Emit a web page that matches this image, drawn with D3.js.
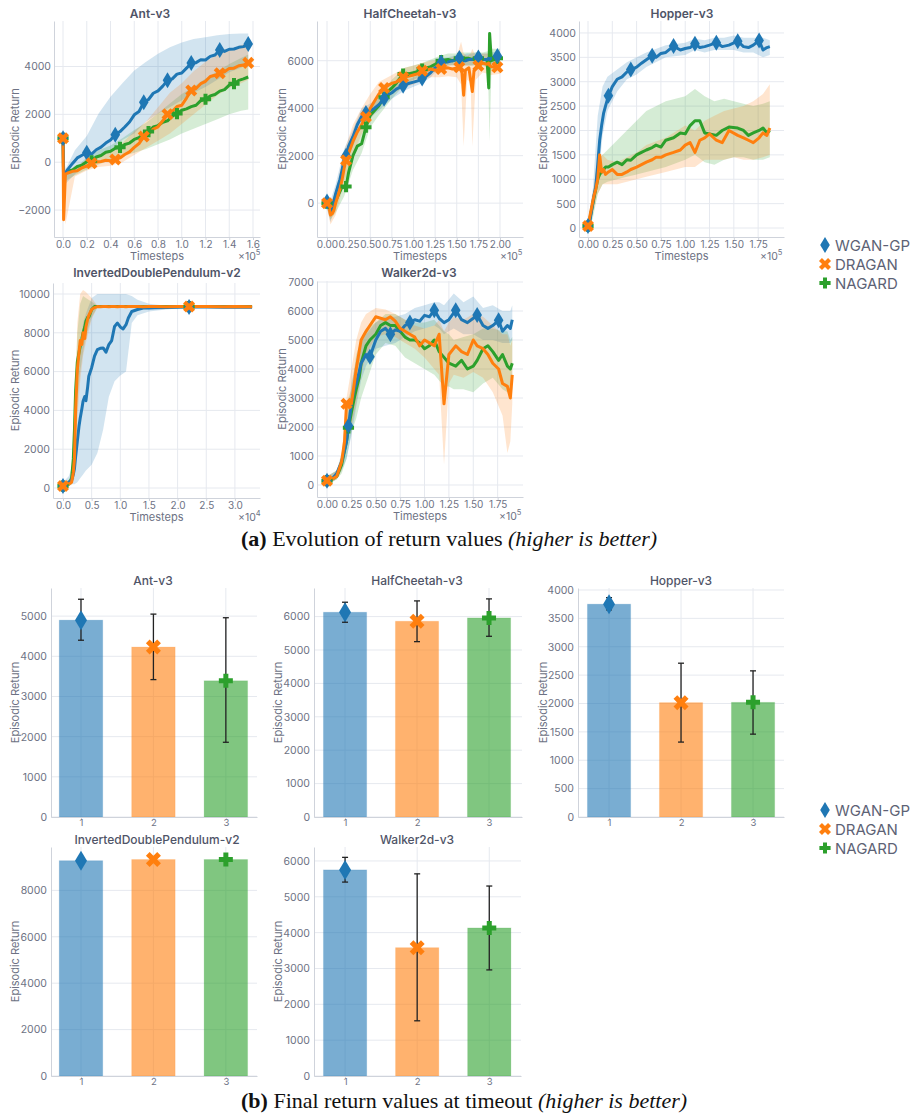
<!DOCTYPE html>
<html><head><meta charset="utf-8">
<script src="https://cdn.jsdelivr.net/npm/d3@7"></script>
<style>body{margin:0;background:#fff}svg{display:block}</style>
</head><body><svg id="c" width="920" height="1119"></svg>
<script>
// ---------- data ----------
const methods = ["WGAN-GP", "DRAGAN", "NAGARD"];
const colors = ["#1f77b4", "#ff7f0e", "#2ca02c"];

// Ant-v3 (x in 1e5 timesteps)
const antX = [0, 0.005, 0.02, 0.04, 0.08, 0.12, 0.16, 0.20, 0.24, 0.28, 0.32, 0.36, 0.40, 0.44, 0.48, 0.52, 0.56, 0.60, 0.64, 0.68, 0.72, 0.76, 0.80, 0.84, 0.88, 0.92, 0.96, 1.00, 1.04, 1.08, 1.12, 1.16, 1.20, 1.24, 1.28, 1.32, 1.36, 1.40, 1.44, 1.48, 1.52, 1.56];
const antWgan = [1000, -800, -450, -300, -50, 180, 290, 400, 340, 520, 630, 800, 930, 1150, 1280, 1470, 1680, 1980, 2120, 2500, 2620, 2880, 2980, 3180, 3420, 3480, 3680, 3730, 3930, 4150, 4160, 4280, 4270, 4420, 4480, 4690, 4630, 4720, 4730, 4800, 4830, 4940];
const antDragan = [1000, -2400, -500, -450, -380, -360, -230, -160, -40, 10, 30, 80, 60, 110, 180, 320, 430, 620, 780, 1070, 1180, 1380, 1480, 1730, 2000, 2120, 2330, 2380, 2680, 3000, 3080, 3280, 3380, 3580, 3630, 3720, 3780, 3920, 3930, 4030, 4060, 4150];
const antNagard = [1000, -600, -450, -380, -320, -180, -120, 20, 60, 220, 280, 420, 460, 580, 620, 740, 800, 950, 1030, 1170, 1280, 1470, 1530, 1670, 1730, 1920, 2030, 2170, 2230, 2320, 2380, 2570, 2630, 2770, 2830, 2970, 3030, 3220, 3280, 3420, 3480, 3560];
const antBandX = [0, 0.02, 0.1, 0.2, 0.3, 0.4, 0.5, 0.6, 0.7, 0.8, 0.9, 1.0, 1.1, 1.2, 1.3, 1.4, 1.5, 1.56];
const antWganLo = [800, -900, -500, 0, 230, 500, 930, 1200, 1700, 2030, 2300, 2590, 2900, 3140, 3450, 3760, 3950, 4110];
const antWganHi = [1250, -300, 500, 1100, 2030, 2730, 3300, 3830, 4200, 4530, 4800, 5000, 5150, 5220, 5300, 5360, 5380, 5380];
const antDraganLo = [800, -2600, -600, -350, -200, -150, 0, 300, 600, 900, 1200, 1600, 2000, 2400, 2800, 3100, 3300, 3450];
const antDraganHi = [1200, -400, -250, 100, 300, 500, 800, 1300, 1700, 2300, 2900, 3300, 3800, 4200, 4500, 4700, 4900, 5000];
const antNagardLo = [800, -800, -550, -300, -100, 100, 250, 400, 550, 750, 950, 1200, 1400, 1600, 1800, 2000, 2150, 2200];
const antNagardHi = [1200, -400, -250, 200, 500, 700, 1000, 1350, 1650, 2050, 2450, 2850, 3150, 3500, 3800, 4100, 4350, 4500];
const antMarks = [[0, 0.20, 0.44, 0.68, 0.88, 1.08, 1.32, 1.56], [0, 0.24, 0.44, 0.68, 0.88, 1.08, 1.32, 1.56], [0, 0.24, 0.48, 0.72, 0.96, 1.20, 1.44]];

// HalfCheetah-v3
const hcX = [0, 0.02, 0.04, 0.06, 0.08, 0.1, 0.125, 0.15, 0.175, 0.2, 0.22, 0.25, 0.3, 0.35, 0.4, 0.45, 0.5, 0.55, 0.6, 0.66, 0.7, 0.75, 0.8, 0.88, 0.95, 1.0, 1.05, 1.1, 1.15, 1.2, 1.25, 1.32, 1.4, 1.45, 1.5, 1.53, 1.56, 1.58, 1.6, 1.64, 1.68, 1.7, 1.75, 1.8, 1.85, 1.87, 1.88, 1.9, 1.97, 2.0];
const hcWgan = [70, 150, -350, -150, 100, 400, 700, 1000, 1400, 1900, 2000, 2400, 2800, 3300, 3650, 3800, 3900, 4000, 4150, 4400, 4550, 4650, 4800, 4950, 5050, 5100, 5150, 5250, 5350, 5500, 5700, 5930, 5950, 6000, 6050, 6110, 6050, 6000, 6000, 6050, 6050, 6100, 6140, 6050, 6050, 6100, 6050, 6100, 6200, 6100];
const hcDragan = [0, -100, -500, -450, -300, 0, 300, 600, 1000, 1500, 1810, 2100, 2600, 3000, 3300, 3630, 4000, 4300, 4600, 4850, 4950, 5050, 5100, 5300, 5350, 5400, 5450, 5580, 5600, 5650, 5600, 5650, 5700, 5650, 5700, 5720, 5500, 4550, 5600, 5700, 4700, 5600, 5790, 5900, 5850, 5900, 5800, 5750, 5720, 5800];
const hcNagard = [0, 50, -300, -250, -100, 100, 300, 500, 700, 650, 700, 1300, 2000, 2400, 2500, 3200, 3700, 3900, 4100, 4460, 4700, 4850, 5050, 5440, 5450, 5500, 5550, 5650, 5700, 5750, 5850, 6000, 6050, 6000, 6050, 6100, 6100, 6050, 6100, 6100, 6050, 6050, 6100, 6050, 6050, 4850, 7150, 6000, 6100, 6150];
const hcBandX = [0, 0.04, 0.1, 0.2, 0.3, 0.4, 0.5, 0.6, 0.75, 0.9, 1.0, 1.1, 1.2, 1.3, 1.4, 1.5, 1.55, 1.58, 1.62, 1.66, 1.68, 1.72, 1.8, 1.86, 1.88, 1.9, 2.0];
const hcWganLo = [-200, -800, 0, 1500, 2400, 3300, 3600, 3900, 4400, 4750, 4900, 5050, 5300, 5700, 5800, 5850, 5800, 5800, 5800, 5800, 5800, 5850, 5800, 5800, 5850, 5850, 5900];
const hcWganHi = [300, 100, 800, 2300, 3100, 4000, 4200, 4400, 4900, 5150, 5300, 5450, 5700, 6100, 6150, 6250, 6300, 6250, 6300, 6300, 6300, 6350, 6300, 6300, 6300, 6350, 6400];
const hcDraganLo = [-200, -900, -500, 900, 2000, 2900, 3500, 4100, 4600, 4900, 5000, 5200, 5300, 5300, 5350, 5300, 5000, 2400, 5200, 5100, 2400, 5200, 5500, 5450, 5400, 5400, 5450];
const hcDraganHi = [200, -100, 500, 2200, 3300, 4000, 4600, 5100, 5400, 5700, 5800, 5900, 6000, 6050, 6100, 6200, 6800, 6300, 6200, 6300, 6500, 6200, 6300, 6300, 6300, 6200, 6200];
const hcNagardLo = [-200, -700, -400, 300, 1400, 2100, 3200, 3700, 4400, 5000, 5200, 5350, 5450, 5700, 5800, 5800, 5850, 5800, 5800, 5800, 5800, 5800, 5800, 5700, 2600, 5600, 5800];
const hcNagardHi = [200, 0, 500, 1300, 2500, 3300, 4100, 4500, 5200, 5700, 5800, 5900, 6050, 6200, 6300, 6300, 6350, 6350, 6350, 6350, 6350, 6350, 6350, 6400, 7100, 6500, 6500];
const hcMarks = [[0, 0.22, 0.45, 0.66, 0.88, 1.1, 1.32, 1.53, 1.75, 1.97], [0, 0.22, 0.45, 0.66, 0.88, 1.1, 1.32, 1.53, 1.75, 1.97], [0, 0.22, 0.45, 0.66, 0.88, 1.1, 1.32, 1.53, 1.75, 1.97]];

// Hopper-v3
const hopX = [0, 0.02, 0.04, 0.06, 0.08, 0.1, 0.12, 0.14, 0.16, 0.18, 0.21, 0.25, 0.3, 0.35, 0.4, 0.44, 0.5, 0.55, 0.6, 0.66, 0.7, 0.75, 0.8, 0.88, 0.95, 1.0, 1.05, 1.1, 1.15, 1.2, 1.25, 1.32, 1.38, 1.45, 1.54, 1.6, 1.65, 1.7, 1.76, 1.8, 1.84, 1.87];
const hopWgan = [40, 150, 400, 650, 850, 1300, 1800, 2100, 2350, 2500, 2710, 2900, 3050, 3100, 3200, 3250, 3300, 3380, 3450, 3530, 3500, 3580, 3600, 3730, 3650, 3680, 3700, 3780, 3700, 3720, 3750, 3800, 3720, 3750, 3830, 3720, 3700, 3750, 3845, 3650, 3700, 3720];
const hopDragan = [40, 250, 450, 650, 800, 1000, 1500, 1150, 1200, 1100, 1150, 1200, 1100, 1100, 1150, 1200, 1250, 1300, 1350, 1400, 1450, 1450, 1500, 1550, 1600, 1700, 1750, 1550, 1800, 1850, 1930, 1800, 1750, 2000, 1900, 1850, 1800, 1750, 1850, 1950, 1900, 2050];
const hopNagard = [40, 200, 400, 600, 800, 1000, 1100, 1150, 1200, 1250, 1250, 1300, 1350, 1300, 1400, 1390, 1500, 1550, 1600, 1650, 1700, 1660, 1800, 1850, 1950, 1930, 2100, 2200, 2200, 1950, 1930, 1900, 2000, 2070, 2050, 2000, 1900, 1950, 2000, 2050, 1950, 2000];
const hopBandX = [0, 0.05, 0.1, 0.15, 0.2, 0.3, 0.4, 0.5, 0.6, 0.8, 1.0, 1.1, 1.2, 1.3, 1.4, 1.5, 1.6, 1.7, 1.8, 1.87];
const hopWganLo = [-50, 400, 900, 1900, 2400, 2800, 3050, 3150, 3300, 3500, 3550, 3650, 3600, 3650, 3650, 3650, 3600, 3600, 3500, 3550];
const hopWganHi = [150, 800, 2300, 2900, 3100, 3250, 3400, 3500, 3600, 3750, 3800, 3880, 3850, 3900, 3900, 3950, 3900, 3900, 3900, 3850];
const hopDraganLo = [-50, 300, 700, 900, 900, 900, 950, 1000, 1050, 1150, 1250, 1250, 1400, 1400, 1400, 1450, 1400, 1400, 1450, 1500];
const hopDraganHi = [150, 700, 1400, 1500, 1400, 1350, 1450, 1550, 1700, 1850, 2100, 2000, 2200, 2300, 2400, 2450, 2500, 2600, 2750, 2950];
const hopNagardLo = [-50, 200, 700, 900, 950, 1000, 1050, 1100, 1150, 1250, 1400, 1500, 1350, 1300, 1400, 1450, 1450, 1400, 1400, 1450];
const hopNagardHi = [150, 700, 1400, 1500, 1600, 1800, 2000, 2200, 2400, 2600, 2700, 2850, 2700, 2600, 2650, 2600, 2550, 2500, 2550, 2600];
const hopMarks = [[0, 0.21, 0.44, 0.66, 0.88, 1.1, 1.32, 1.54, 1.76], [0], [0]];

// InvertedDoublePendulum-v2 (x in 1e4 timesteps)
const idpX = [0, 0.1, 0.15, 0.18, 0.2, 0.22, 0.25, 0.28, 0.3, 0.33, 0.35, 0.38, 0.4, 0.43, 0.45, 0.5, 0.55, 0.6, 0.65, 0.7, 0.75, 0.8, 0.85, 0.9, 0.95, 1.0, 1.05, 1.1, 1.14, 1.2, 1.3, 1.4, 1.5, 1.6, 1.8, 2.0, 2.2, 2.5, 2.8, 3.0, 3.3];
const idpWgan = [100, 300, 400, 700, 1000, 1600, 2400, 3200, 3600, 4100, 4470, 4720, 4500, 5200, 5760, 6200, 6800, 7130, 7200, 7220, 7000, 7390, 7600, 8330, 8500, 8300, 8200, 8420, 8760, 9100, 9200, 9280, 9280, 9290, 9310, 9320, 9330, 9330, 9320, 9330, 9320];
const idpDragan = [100, 200, 300, 800, 1500, 4000, 6100, 7000, 7600, 7400, 8000, 7700, 8300, 8700, 8900, 9200, 9300, 9350, 9340, 9350, 9350, 9340, 9350, 9350, 9340, 9350, 9350, 9340, 9350, 9350, 9350, 9340, 9350, 9350, 9340, 9350, 9350, 9350, 9340, 9350, 9340];
const idpNagard = [100, 200, 500, 1500, 3000, 5000, 6500, 7000, 7300, 7700, 8000, 8300, 8600, 8800, 8800, 9200, 9350, 9350, 9360, 9350, 9360, 9350, 9350, 9360, 9350, 9350, 9360, 9350, 9350, 9360, 9350, 9350, 9360, 9350, 9350, 9360, 9350, 9350, 9360, 9350, 9350];
const idpBandX = [0, 0.1, 0.15, 0.2, 0.25, 0.3, 0.35, 0.4, 0.5, 0.6, 0.7, 0.8, 0.9, 1.0, 1.1, 1.2, 1.3, 1.5, 1.8, 2.2, 3.3];
const idpWganLo = [-100, 100, 200, 200, 300, 500, 700, 900, 1200, 1800, 3000, 4700, 5500, 5800, 6000, 8500, 8900, 9100, 9200, 9300, 9300];
const idpWganHi = [300, 600, 1000, 2000, 4500, 7000, 8500, 9000, 9800, 10000, 10000, 10000, 10000, 10000, 10000, 9900, 9700, 9500, 9400, 9360, 9360];
const idpDraganLo = [-100, 100, 150, 500, 3500, 5500, 6800, 7500, 8700, 9300, 9320, 9320, 9320, 9320, 9320, 9320, 9320, 9320, 9320, 9320, 9320];
const idpDraganHi = [300, 400, 600, 3000, 8500, 10000, 10200, 10100, 9800, 9400, 9380, 9380, 9380, 9380, 9380, 9380, 9380, 9380, 9380, 9380, 9380];
const idpNagardLo = [-100, 100, 200, 1500, 4500, 6000, 7000, 7800, 8800, 9300, 9320, 9320, 9320, 9320, 9320, 9320, 9320, 9320, 9320, 9320, 9320];
const idpNagardHi = [300, 400, 800, 4000, 8000, 9500, 9900, 9800, 9600, 9400, 9380, 9380, 9380, 9380, 9380, 9380, 9380, 9380, 9380, 9380, 9380];
const idpMarks = [[0, 2.2], [0, 2.2], [0, 2.2]];

// Walker2d-v3
const wkX = [0, 0.05, 0.1, 0.15, 0.18, 0.2, 0.22, 0.25, 0.28, 0.3, 0.33, 0.35, 0.4, 0.44, 0.5, 0.55, 0.6, 0.65, 0.7, 0.75, 0.8, 0.85, 0.9, 0.95, 1.0, 1.05, 1.1, 1.15, 1.2, 1.25, 1.32, 1.38, 1.44, 1.5, 1.54, 1.6, 1.65, 1.7, 1.76, 1.8, 1.85, 1.88, 1.9];
const wkWgan = [150, 200, 400, 800, 1200, 1500, 2040, 2800, 3300, 3500, 3900, 4200, 4500, 4420, 5000, 5300, 5400, 5200, 5350, 5300, 5500, 5600, 5700, 5650, 5850, 5800, 6030, 5750, 5600, 5700, 6030, 5700, 5600, 5750, 5860, 5500, 5400, 5500, 5680, 5300, 5500, 5400, 5700];
const wkDragan = [150, 200, 300, 800, 1500, 2800, 2850, 2800, 3500, 4000, 4600, 5000, 5300, 5500, 5800, 5750, 5700, 5800, 5650, 5400, 5300, 5200, 5100, 4800, 5000, 4900, 4800, 5200, 2800, 4500, 4800, 4600, 4500, 5000, 4800, 4700, 4500, 4200, 4000, 3500, 3400, 3000, 3800];
const wkNagard = [150, 200, 300, 700, 1200, 1500, 1970, 2500, 3000, 3300, 3700, 4200, 4800, 5000, 5200, 5500, 5600, 5500, 5500, 5300, 5100, 5000, 5000, 4900, 4700, 4800, 5000, 4600, 4400, 4200, 4100, 4300, 4000, 4100, 4300, 4700, 4800, 4600, 4300, 4500, 4100, 4000, 4200];
const wkBandX = [0, 0.1, 0.15, 0.2, 0.25, 0.3, 0.35, 0.4, 0.5, 0.6, 0.7, 0.8, 0.9, 1.0, 1.1, 1.15, 1.2, 1.25, 1.3, 1.4, 1.5, 1.6, 1.7, 1.8, 1.85, 1.88, 1.9];
const wkWganLo = [0, 200, 500, 900, 1700, 2700, 3600, 4100, 4700, 4800, 4900, 5100, 5300, 5400, 5500, 5400, 5200, 5300, 5400, 5200, 5200, 5000, 5000, 4900, 4900, 4900, 5000];
const wkWganHi = [300, 500, 1100, 2000, 3500, 4300, 4900, 5200, 5600, 5800, 5800, 5900, 6100, 6200, 6300, 6300, 6200, 6400, 6600, 6300, 6500, 6100, 6200, 6000, 6000, 6000, 6200];
const wkDraganLo = [0, 200, 500, 1500, 2000, 2800, 3800, 4500, 5100, 5200, 5100, 4900, 4700, 4400, 4000, 3800, 700, 3500, 3800, 3700, 3900, 3700, 3200, 2400, 1100, 1500, 2800];
const wkDraganHi = [300, 500, 1000, 3000, 4000, 5000, 5600, 5900, 6100, 6050, 5900, 5700, 5500, 5400, 5500, 5700, 5300, 5600, 5800, 5700, 5900, 5800, 5500, 5200, 5200, 4800, 5000];
const wkNagardLo = [0, 200, 400, 900, 1800, 2300, 3000, 3500, 4500, 4900, 4800, 4400, 4200, 4000, 3800, 3600, 3400, 3400, 3300, 3300, 3200, 3500, 3700, 3300, 3200, 3200, 3300];
const wkNagardHi = [300, 500, 1000, 2800, 3300, 4500, 5000, 5400, 5600, 5900, 5900, 5700, 5600, 5600, 5700, 5500, 5300, 5200, 5000, 5100, 5200, 5400, 5400, 5300, 5300, 5000, 5100];
const wkMarks = [[0, 0.22, 0.44, 0.65, 0.85, 1.1, 1.32, 1.54, 1.76], [0, 0.2], [0, 0.22]];

// Tick labels
const antXTicks = [0, 0.2, 0.4, 0.6, 0.8, 1.0, 1.2, 1.4, 1.6];
const antYTicks = [-2000, 0, 2000, 4000];
const hcXTicks = [0, 0.25, 0.5, 0.75, 1.0, 1.25, 1.5, 1.75, 2.0];
const hcYTicks = [0, 2000, 4000, 6000];
const hopXTicks = [0, 0.25, 0.5, 0.75, 1.0, 1.25, 1.5, 1.75];
const hopYTicks = [0, 500, 1000, 1500, 2000, 2500, 3000, 3500, 4000];
const idpXTicks = [0, 0.5, 1.0, 1.5, 2.0, 2.5, 3.0];
const idpYTicks = [0, 2000, 4000, 6000, 8000, 10000];
const wkXTicks = [0, 0.25, 0.5, 0.75, 1.0, 1.25, 1.5, 1.75];
const wkYTicks = [0, 1000, 2000, 3000, 4000, 5000, 6000, 7000];

// Final returns (bar charts)
const barCats = [1, 2, 3];
const antFinal = [4900, 4230, 3390];
const antErrLo = [4400, 3420, 1860];
const antErrHi = [5420, 5050, 4960];
const hcFinal = [6130, 5860, 5960];
const hcErrLo = [5830, 5250, 5410];
const hcErrHi = [6430, 6470, 6530];
const hopFinal = [3750, 2015, 2020];
const hopErrLo = [3650, 1320, 1460];
const hopErrHi = [3865, 2710, 2575];
const idpFinal = [9280, 9330, 9330];
const idpErrLo = [9250, 9320, 9320];
const idpErrHi = [9310, 9340, 9340];
const wkFinal = [5750, 3580, 4130];
const wkErrLo = [5410, 1540, 2960];
const wkErrHi = [6100, 5640, 5300];
const antBarYTicks = [0, 1000, 2000, 3000, 4000, 5000];
const hcBarYTicks = [0, 1000, 2000, 3000, 4000, 5000, 6000];
const hopBarYTicks = [0, 500, 1000, 1500, 2000, 2500, 3000, 3500, 4000];
const idpBarYTicks = [0, 2000, 4000, 6000, 8000];
const wkBarYTicks = [0, 1000, 2000, 3000, 4000, 5000, 6000];

// ---------- drawing ----------
const FONT = "Inter, 'Noto Sans', sans-serif";
const TXT = "#6d7284", TITLE = "#4f5467", GRID = "#e6e9ef", AXC = "#cfd3db";
const svg = d3.select("#c");

function diamondPath(w, h) { return `M0,${-h}L${w},0L0,${h}L${-w},0Z`; }
function crossPath(r, a, rot) {
  const pts = [[-a,-r],[a,-r],[a,-a],[r,-a],[r,a],[a,a],[a,r],[-a,r],[-a,a],[-r,a],[-r,-a],[-a,-a]];
  const c = Math.cos(rot), s = Math.sin(rot);
  return "M" + pts.map(([x, y]) => (x*c - y*s).toFixed(2) + "," + (x*s + y*c).toFixed(2)).join("L") + "Z";
}
function symbol(i, k) {
  if (i === 0) return diamondPath(4.8*k, 8*k);
  if (i === 1) return crossPath(6.4*k, 2.1*k, Math.PI/4);
  return crossPath(5.6*k, 2.0*k, 0);
}
let clipId = 0;
function styleAxis(g, fs) {
  g.attr("font-family", FONT);
  g.select(".domain").attr("stroke", AXC);
  g.selectAll(".tick line").attr("stroke", AXC);
  g.selectAll(".tick text").attr("fill", TXT).attr("font-size", fs);
}

function linePanel(p) {
  const x = d3.scaleLinear().domain(p.xDom).range([p.L, p.R]);
  const y = d3.scaleLinear().domain(p.yDom).range([p.B, p.T]);
  const g = svg.append("g");
  g.selectAll("line.gx").data(p.xTicks).join("line").attr("class","gx")
    .attr("x1", d => x(d)).attr("x2", d => x(d)).attr("y1", p.T).attr("y2", p.B).attr("stroke", GRID);
  g.selectAll("line.gy").data(p.yTicks).join("line").attr("class","gy")
    .attr("y1", d => y(d)).attr("y2", d => y(d)).attr("x1", p.L).attr("x2", p.R).attr("stroke", GRID);
  const id = "clip" + (clipId++);
  svg.append("clipPath").attr("id", id).append("rect").attr("x", p.L).attr("y", p.T).attr("width", p.R - p.L).attr("height", p.B - p.T);
  const pg = g.append("g").attr("clip-path", `url(#${id})`);
  const order = [2, 0, 1];
  order.forEach(i => {
    const area = d3.area().x((d, j) => x(p.bandX[j])).y0((d, j) => y(p.lo[i][j])).y1((d, j) => y(p.hi[i][j]));
    pg.append("path").attr("d", area(p.bandX)).attr("fill", colors[i]).attr("fill-opacity", 0.2);
  });
  order.forEach(i => {
    const line = d3.line().x((d, j) => x(p.x[j])).y(d => y(d));
    pg.append("path").attr("d", line(p.mean[i])).attr("fill", "none").attr("stroke", colors[i])
      .attr("stroke-width", 3).attr("stroke-linejoin", "round");
  });
  order.forEach(i => {
    const idx = p.marks[i].map(mx => d3.minIndex(p.x, v => Math.abs(v - mx)));
    pg.selectAll(null).data(idx).join("path")
      .attr("transform", j => `translate(${x(p.x[j])},${y(p.mean[i][j])})`)
      .attr("d", symbol(i, 1)).attr("fill", colors[i]);
  });
  const ax = g.append("g").attr("transform", `translate(0,${p.B})`)
    .call(d3.axisBottom(x).tickValues(p.xTicks).tickFormat(d3.format(p.xFmt)).tickSizeInner(3).tickSizeOuter(0).tickPadding(1));
  styleAxis(ax, 10);
  const ay = g.append("g").attr("transform", `translate(${p.L},0)`)
    .call(d3.axisLeft(y).tickValues(p.yTicks).tickFormat(d3.format("d")).tickSizeInner(0).tickSizeOuter(0).tickPadding(3));
  styleAxis(ay, 10.5);
  g.append("text").attr("x", p.tx).attr("y", p.ty).attr("text-anchor", "middle").attr("font-family", FONT)
    .attr("font-size", 12).attr("font-weight", 600).attr("fill", TITLE).text(p.title);
  g.append("text").attr("transform", `translate(${p.yl},${(p.T + p.B) / 2}) rotate(-90)`).attr("text-anchor", "middle")
    .attr("dominant-baseline", "central").attr("font-family", FONT).attr("font-size", 11).attr("fill", TXT).text("Episodic Return");
  g.append("text").attr("x", (p.L + p.R) / 2).attr("y", p.B + 23).attr("text-anchor", "middle").attr("font-family", FONT)
    .attr("font-size", 11).attr("fill", TXT).text("Timesteps");
  const ex = g.append("text").attr("x", p.ex).attr("y", p.B + 23).attr("font-family", FONT).attr("font-size", 10.5).attr("fill", TXT);
  ex.append("tspan").text("×10");
  ex.append("tspan").attr("dy", -5).attr("font-size", 7.5).text(p.exp);
}

function barPanel(p) {
  const x = d3.scaleLinear().domain(p.xDom).range([p.L, p.R]);
  const y = d3.scaleLinear().domain(p.yDom).range([p.B, p.T]);
  const g = svg.append("g");
  g.selectAll("line.gx").data(barCats).join("line")
    .attr("x1", d => x(d)).attr("x2", d => x(d)).attr("y1", p.T).attr("y2", p.B).attr("stroke", GRID);
  g.selectAll("line.gy").data(p.yTicks).join("line")
    .attr("y1", d => y(d)).attr("y2", d => y(d)).attr("x1", p.L).attr("x2", p.R).attr("stroke", GRID);
  g.selectAll("rect.bar").data(p.vals).join("rect")
    .attr("x", (d, i) => x(barCats[i] - 0.3)).attr("width", x(1.3) - x(0.7))
    .attr("y", d => y(d)).attr("height", d => p.B - y(d))
    .attr("fill", (d, i) => colors[i]).attr("fill-opacity", 0.6)
    .attr("stroke", (d, i) => colors[i]).attr("stroke-opacity", 0.15).attr("stroke-width", 1);
  p.vals.forEach((v, i) => {
    const cx = x(barCats[i]);
    if (p.hi[i] - p.lo[i] > 100) {
      g.append("line").attr("x1", cx).attr("x2", cx).attr("y1", y(p.lo[i])).attr("y2", y(p.hi[i])).attr("stroke", "#222").attr("stroke-width", 1.3);
      [p.lo[i], p.hi[i]].forEach(e => g.append("line").attr("x1", cx - 3).attr("x2", cx + 3).attr("y1", y(e)).attr("y2", y(e)).attr("stroke", "#222").attr("stroke-width", 1.3));
    }
    g.append("path").attr("transform", `translate(${cx},${y(v)})`).attr("d", symbol(i, 1.25)).attr("fill", colors[i]);
  });
  const ax = g.append("g").attr("transform", `translate(0,${p.B})`)
    .call(d3.axisBottom(x).tickValues(barCats).tickFormat(d3.format("d")).tickSizeInner(2).tickSizeOuter(0).tickPadding(0));
  styleAxis(ax, 9.5);
  const ay = g.append("g").attr("transform", `translate(${p.L},0)`)
    .call(d3.axisLeft(y).tickValues(p.yTicks).tickFormat(d3.format("d")).tickSizeInner(0).tickSizeOuter(0).tickPadding(4));
  styleAxis(ay, 10.5);
  g.append("text").attr("x", p.tx).attr("y", p.ty).attr("text-anchor", "middle").attr("font-family", FONT)
    .attr("font-size", 12).attr("font-weight", 500).attr("fill", TITLE).text(p.title);
  g.append("text").attr("transform", `translate(${p.yl},${(p.T + p.B) / 2}) rotate(-90)`).attr("text-anchor", "middle")
    .attr("dominant-baseline", "central").attr("font-family", FONT).attr("font-size", 11).attr("fill", TXT).text("Episodic Return");
}

function legend(y0) {
  methods.forEach((m, i) => {
    const yy = y0 + i * 19;
    svg.append("path").attr("transform", `translate(825,${yy})`).attr("d", symbol(i, 1)).attr("fill", colors[i]);
    svg.append("text").attr("x", 835).attr("y", yy).attr("dominant-baseline", "central").attr("font-family", FONT)
      .attr("font-size", 15).attr("fill", "#5d6275").text(m);
  });
}

linePanel({title: "Ant-v3", tx: 150, ty: 18, L: 54, R: 260, T: 21, B: 237, yl: 15, ex: 238, exp: "5",
  xDom: [-0.076, 1.659], yDom: [-3125, 5900], xTicks: antXTicks, yTicks: antYTicks, xFmt: ".1f",
  x: antX, mean: [antWgan, antDragan, antNagard], bandX: antBandX,
  lo: [antWganLo, antDraganLo, antNagardLo], hi: [antWganHi, antDraganHi, antNagardHi], marks: antMarks});
linePanel({title: "HalfCheetah-v3", tx: 410, ty: 18, L: 317, R: 523, T: 21, B: 237, yl: 282, ex: 500, exp: "5",
  xDom: [-0.1157, 2.266], yDom: [-1426, 7673], xTicks: hcXTicks, yTicks: hcYTicks, xFmt: ".2f",
  x: hcX, mean: [hcWgan, hcDragan, hcNagard], bandX: hcBandX,
  lo: [hcWganLo, hcDraganLo, hcNagardLo], hi: [hcWganHi, hcDraganHi, hcNagardHi], marks: hcMarks});
linePanel({title: "Hopper-v3", tx: 682, ty: 18, L: 579, R: 784, T: 21, B: 237, yl: 543, ex: 760, exp: "5",
  xDom: [-0.0926, 2.016], yDom: [-184, 4245], xTicks: hopXTicks, yTicks: hopYTicks, xFmt: ".2f",
  x: hopX, mean: [hopWgan, hopDragan, hopNagard], bandX: hopBandX,
  lo: [hopWganLo, hopDraganLo, hopNagardLo], hi: [hopWganHi, hopDraganHi, hopNagardHi], marks: hopMarks});
linePanel({title: "InvertedDoublePendulum-v2", tx: 157, ty: 277, L: 53, R: 260, T: 283, B: 498, yl: 15, ex: 238, exp: "4",
  xDom: [-0.1745, 3.438], yDom: [-515, 10567], xTicks: idpXTicks, yTicks: idpYTicks, xFmt: ".1f",
  x: idpX, mean: [idpWgan, idpDragan, idpNagard], bandX: idpBandX,
  lo: [idpWganLo, idpDraganLo, idpNagardLo], hi: [idpWganHi, idpDraganHi, idpNagardHi], marks: idpMarks});
linePanel({title: "Walker2d-v3", tx: 419, ty: 277, L: 317, R: 523, T: 281, B: 497, yl: 282, ex: 499, exp: "5",
  xDom: [-0.1026, 2.01], yDom: [-414, 7035], xTicks: wkXTicks, yTicks: wkYTicks, xFmt: ".2f",
  x: wkX, mean: [wkWgan, wkDragan, wkNagard], bandX: wkBandX,
  lo: [wkWganLo, wkDraganLo, wkNagardLo], hi: [wkWganHi, wkDraganHi, wkNagardHi], marks: wkMarks});

legend(245);

barPanel({title: "Ant-v3", tx: 153, ty: 585, L: 51, R: 257, T: 588, B: 817, yl: 15,
  xDom: [0.586, 3.43], yDom: [0, 5700], yTicks: antBarYTicks, vals: antFinal, lo: antErrLo, hi: antErrHi});
barPanel({title: "HalfCheetah-v3", tx: 417, ty: 585, L: 314, R: 522, T: 588, B: 817, yl: 278,
  xDom: [0.569, 3.458], yDom: [0, 6856], yTicks: hcBarYTicks, vals: hcFinal, lo: hcErrLo, hi: hcErrHi});
barPanel({title: "Hopper-v3", tx: 681, ty: 585, L: 578, R: 784, T: 588, B: 817, yl: 543,
  xDom: [0.569, 3.43], yDom: [0, 4035], yTicks: hopBarYTicks, vals: hopFinal, lo: hopErrLo, hi: hopErrHi});
barPanel({title: "InvertedDoublePendulum-v2", tx: 157, ty: 844, L: 51, R: 257, T: 847, B: 1076, yl: 15,
  xDom: [0.586, 3.43], yDom: [0, 9870], yTicks: idpBarYTicks, vals: idpFinal, lo: idpErrLo, hi: idpErrHi});
barPanel({title: "Walker2d-v3", tx: 417, ty: 844, L: 314, R: 521, T: 847, B: 1076, yl: 278,
  xDom: [0.569, 3.44], yDom: [0, 6389], yTicks: wkBarYTicks, vals: wkFinal, lo: wkErrLo, hi: wkErrHi});

legend(810);

function caption(y, tag, main, ital) {
  const t = svg.append("text").attr("x", 241).attr("y", y).attr("font-family", "'Liberation Serif', 'Times New Roman', serif")
    .attr("font-size", 22).attr("fill", "#111");
  t.append("tspan").attr("font-weight", "bold").text(tag);
  t.append("tspan").text(" " + main + " ");
  t.append("tspan").attr("font-style", "italic").text(ital);
}
caption(546, "(a)", "Evolution of return values", "(higher is better)");
caption(1108, "(b)", "Final return values at timeout", "(higher is better)");
</script></body></html>
